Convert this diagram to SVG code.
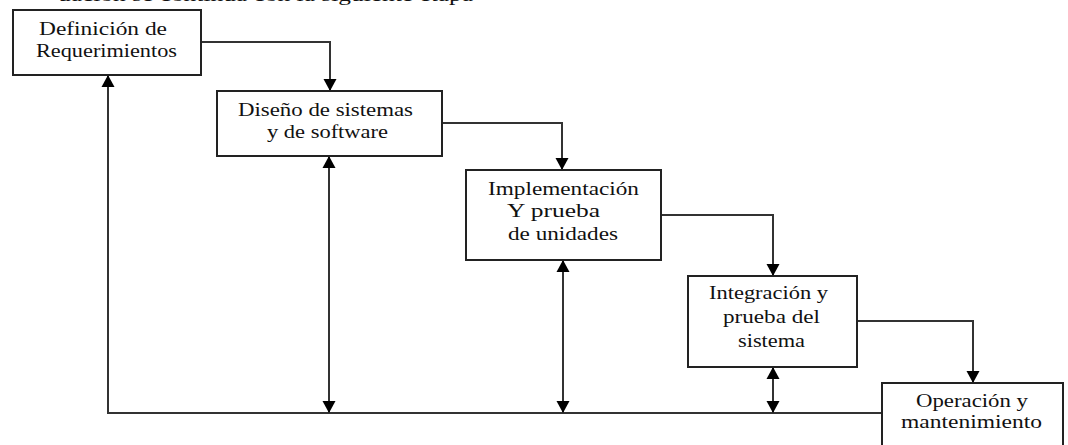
<svg xmlns="http://www.w3.org/2000/svg" width="1068" height="445" viewBox="0 0 1068 445">
<style>
.box{fill:#fff;stroke:#222;stroke-width:2}
.t{font-family:"Liberation Serif","Times New Roman",serif;font-size:18px;fill:#111}
.c{fill:none;stroke:#333;stroke-width:2}
</style>
<defs>
<marker id="ah" markerUnits="userSpaceOnUse" markerWidth="14" markerHeight="14" refX="12" refY="7" orient="auto">
<path d="M0,0.5 L12,7 L0,13.5 Z" fill="#000"/>
</marker>
<marker id="as" markerUnits="userSpaceOnUse" markerWidth="14" markerHeight="14" refX="0" refY="7" orient="auto">
<path d="M12,0.5 L0,7 L12,13.5 Z" fill="#000"/>
</marker>
</defs>
<rect width="1068" height="445" fill="#fff"/>
<text class="t" x="58" y="0.5" textLength="415" lengthAdjust="spacingAndGlyphs">uación se continúa con la siguiente etapa</text>
<g id="connectors">
<path class="c" d="M201,42 H330 V91" marker-end="url(#ah)"/>
<path class="c" d="M442,123 H562 V170" marker-end="url(#ah)"/>
<path class="c" d="M661,215 H773 V276" marker-end="url(#ah)"/>
<path class="c" d="M857,321 H973 V383" marker-end="url(#ah)"/>
<path class="c" d="M883,413 H108 V75" marker-end="url(#ah)"/>
<path class="c" d="M329,156 V413" marker-start="url(#as)" marker-end="url(#ah)"/>
<path class="c" d="M563,260 V413" marker-start="url(#as)" marker-end="url(#ah)"/>
<path class="c" d="M773,367 V413" marker-start="url(#as)" marker-end="url(#ah)"/>
</g>
<g id="n1">
<rect class="box" x="13" y="10" width="188" height="65"/>
<text class="t" x="39" y="35" textLength="128" lengthAdjust="spacingAndGlyphs">Definición de</text>
<text class="t" x="36" y="57" textLength="141" lengthAdjust="spacingAndGlyphs">Requerimientos</text>
</g>
<g id="n2">
<rect class="box" x="217" y="91" width="225" height="65"/>
<text class="t" x="238" y="116" textLength="175" lengthAdjust="spacingAndGlyphs">Diseño de sistemas</text>
<text class="t" x="267" y="138" textLength="121" lengthAdjust="spacingAndGlyphs">y de software</text>
</g>
<g id="n3">
<rect class="box" x="466" y="170" width="195" height="90"/>
<text class="t" x="488" y="195" textLength="151" lengthAdjust="spacingAndGlyphs">Implementación</text>
<text class="t" x="507" y="217" textLength="93" lengthAdjust="spacingAndGlyphs">Y prueba</text>
<text class="t" x="508" y="240" textLength="110" lengthAdjust="spacingAndGlyphs">de unidades</text>
</g>
<g id="n4">
<rect class="box" x="688" y="276" width="169" height="91"/>
<text class="t" x="709" y="299" textLength="119" lengthAdjust="spacingAndGlyphs">Integración y</text>
<text class="t" x="723" y="323" textLength="97" lengthAdjust="spacingAndGlyphs">prueba del</text>
<text class="t" x="738" y="347" textLength="67" lengthAdjust="spacingAndGlyphs">sistema</text>
</g>
<g id="n5">
<rect class="box" x="882" y="383" width="181" height="80"/>
<text class="t" x="916" y="407" textLength="112" lengthAdjust="spacingAndGlyphs">Operación y</text>
<text class="t" x="901" y="428" textLength="141" lengthAdjust="spacingAndGlyphs">mantenimiento</text>
</g>
</svg>
